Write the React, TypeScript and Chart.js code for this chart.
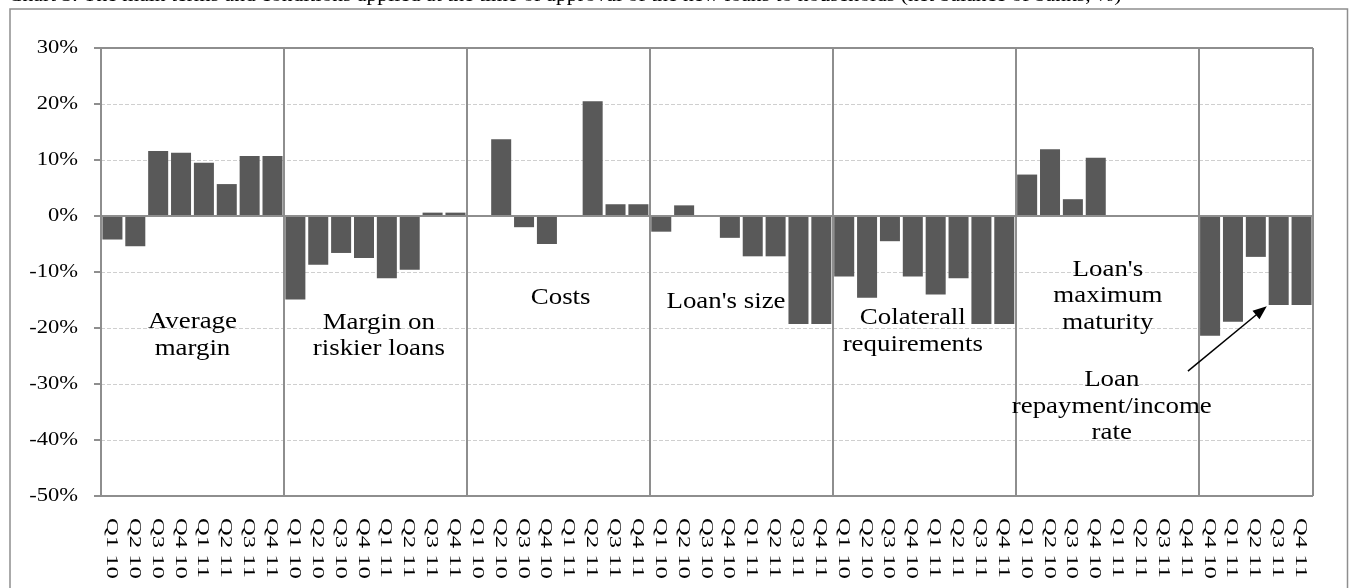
import React, { useEffect, useRef } from 'react';
import { Chart, registerables } from 'chart.js';

Chart.register(...registerables);

// Quarter labels shared by the first six indicator blocks
const quarters = ['Q1 10', 'Q2 10', 'Q3 10', 'Q4 10', 'Q1 11', 'Q2 11', 'Q3 11', 'Q4 11'];
// The repayment/income block only starts in Q4 2010
const repaymentQuarters = ['Q4 10', 'Q1 11', 'Q2 11', 'Q3 11', 'Q4 11'];

// Net balances (%) per indicator
const averageMargin = [-4.2, -5.4, 11.6, 11.3, 9.5, 5.7, 10.7, 10.7];
const riskierMargin = [-14.9, -8.7, -6.6, -7.5, -11.1, -9.6, 0.6, 0.6];
const costs = [0, 13.7, -2.0, -5.0, 0, 20.5, 2.1, 2.1];
const loanSize = [-2.8, 1.9, 0, -3.9, -7.2, -7.2, -19.3, -19.3];
const collateral = [-10.8, -14.6, -4.5, -10.8, -14.0, -11.1, -19.3, -19.3];
const maxMaturity = [7.4, 11.9, 3.0, 10.4, 0, 0, 0, 0];
const repaymentIncome = [-21.4, -18.9, -7.3, -15.9, -15.9];

const blocks = [averageMargin, riskierMargin, costs, loanSize, collateral, maxMaturity, repaymentIncome];
const blockLabels = [quarters, quarters, quarters, quarters, quarters, quarters, repaymentQuarters];

const categories: string[] = blockLabels.flat();
const values: number[] = blocks.flat();

const yTicks = [30, 20, 10, 0, -10, -20, -30, -40, -50];

const title =
  'Chart 3. The main terms and conditions applied at the time of approval of the new loans to households (net balance of banks, %)';

// Block captions: centre position as category index, first baseline as axis value
const captions = [
  { lines: ['Average', 'margin'], at: 3.5, value: -20 },
  { lines: ['Margin on', 'riskier loans'], at: 11.65, value: -20.1 },
  { lines: ['Costs'], at: 19.6, value: -15.7 },
  { lines: ["Loan's size"], at: 26.83, value: -16.5 },
  { lines: ['Colaterall', 'requirements'], at: 35.0, value: -19.3 },
  { lines: ["Loan's", 'maximum', 'maturity'], at: 43.53, value: -10.7 },
  { lines: ['Loan', 'repayment/income', 'rate'], at: 43.7, value: -30.4 },
];
// Pointer from the last caption to its bars
const pointerFrom = { at: 47.03, value: -27.7 };
const pointerTo = { at: 50.48, value: -16.1 };

const SERIF = '"Liberation Serif", "Times New Roman", serif';
const FRAME = '#8e8e8e';
const GRID = '#cfcfcf';

function stretchedText(
  ctx: CanvasRenderingContext2D,
  text: string,
  x: number,
  y: number,
  font: string,
  sx: number,
  align: CanvasTextAlign,
  baseline: CanvasTextBaseline
) {
  ctx.save();
  ctx.translate(x, y);
  ctx.scale(sx, 1);
  ctx.font = font;
  ctx.textAlign = align;
  ctx.textBaseline = baseline;
  ctx.fillStyle = '#000';
  ctx.fillText(text, 0, 0);
  ctx.restore();
}

const gridPlugin = {
  id: 'dashedGrid',
  beforeDatasetsDraw(chart: any) {
    const { ctx, chartArea, scales } = chart;
    const y = scales.y;
    ctx.save();
    ctx.strokeStyle = GRID;
    ctx.lineWidth = 1;
    ctx.setLineDash([4, 2]);
    yTicks.forEach((v) => {
      if (v === 30 || v === 0 || v === -50) return;
      const py = Math.round(y.getPixelForValue(v)) + 0.5;
      ctx.beginPath();
      ctx.moveTo(chartArea.left, py);
      ctx.lineTo(chartArea.right, py);
      ctx.stroke();
    });
    ctx.restore();
  },
};

const decorPlugin = {
  id: 'decor',
  afterDatasetsDraw(chart: any) {
    const { ctx, chartArea, scales } = chart;
    const x = scales.x;
    const y = scales.y;
    const { left, right, bottom } = chartArea;
    const catW = (right - left) / categories.length;

    ctx.save();
    ctx.strokeStyle = FRAME;
    ctx.lineWidth = 2;
    ctx.setLineDash([]);

    // frame, zero line and value-axis tick marks
    const yTop = Math.round(y.getPixelForValue(30));
    const yBot = Math.round(y.getPixelForValue(-50));
    const yZero = Math.round(y.getPixelForValue(0));
    ctx.beginPath();
    ctx.moveTo(left - 7, yTop);
    ctx.lineTo(right, yTop);
    ctx.moveTo(left - 7, yBot);
    ctx.lineTo(right, yBot);
    ctx.moveTo(left - 7, yZero);
    ctx.lineTo(right, yZero);
    ctx.moveTo(left, yTop);
    ctx.lineTo(left, yBot);
    ctx.moveTo(right, yTop);
    ctx.lineTo(right, yBot);
    yTicks.forEach((v) => {
      const py = Math.round(y.getPixelForValue(v));
      ctx.moveTo(left - 7, py);
      ctx.lineTo(left, py);
    });
    // block separators
    let idx = 0;
    blocks.forEach((b, i) => {
      idx += b.length;
      if (i < blocks.length - 1) {
        const px = Math.round(x.getPixelForValue(idx) - catW / 2);
        ctx.moveTo(px, yTop);
        ctx.lineTo(px, yBot);
      }
    });
    ctx.stroke();
    ctx.restore();

    // value-axis labels
    yTicks.forEach((v) => {
      stretchedText(ctx, `${v}%`, 78, y.getPixelForValue(v), `18px ${SERIF}`, 1.25, 'right', 'middle');
    });

    // category labels, rotated to read downwards
    categories.forEach((lab, i) => {
      ctx.save();
      ctx.translate(x.getPixelForValue(i) - 1, bottom + 22);
      ctx.rotate(Math.PI / 2);
      ctx.scale(1.45, 1);
      ctx.font = `17px ${SERIF}`;
      ctx.textAlign = 'left';
      ctx.textBaseline = 'middle';
      ctx.fillStyle = '#000';
      ctx.fillText(lab, 0, 0);
      ctx.restore();
    });

    // block captions
    const lineH = 26.5;
    captions.forEach((c) => {
      const cx = x.getPixelForValue(c.at);
      const by = y.getPixelForValue(c.value);
      c.lines.forEach((ln, k) => {
        stretchedText(ctx, ln, cx, by + k * lineH, `24px ${SERIF}`, 1.12, 'center', 'alphabetic');
      });
    });

    // pointer arrow
    const x0 = x.getPixelForValue(pointerFrom.at);
    const y0 = y.getPixelForValue(pointerFrom.value);
    const x1 = x.getPixelForValue(pointerTo.at);
    const y1 = y.getPixelForValue(pointerTo.value);
    const ang = Math.atan2(y1 - y0, x1 - x0);
    const headL = 14;
    const headW = 5.5;
    ctx.save();
    ctx.strokeStyle = '#000';
    ctx.fillStyle = '#000';
    ctx.lineWidth = 1.5;
    ctx.beginPath();
    ctx.moveTo(x0, y0);
    ctx.lineTo(x1 - Math.cos(ang) * headL * 0.8, y1 - Math.sin(ang) * headL * 0.8);
    ctx.stroke();
    ctx.beginPath();
    ctx.moveTo(x1, y1);
    ctx.lineTo(
      x1 - Math.cos(ang) * headL - Math.sin(ang) * headW,
      y1 - Math.sin(ang) * headL + Math.cos(ang) * headW
    );
    ctx.lineTo(
      x1 - Math.cos(ang) * headL + Math.sin(ang) * headW,
      y1 - Math.sin(ang) * headL - Math.cos(ang) * headW
    );
    ctx.closePath();
    ctx.fill();
    ctx.restore();

    // outer chart border
    ctx.save();
    ctx.strokeStyle = FRAME;
    ctx.lineWidth = 1.5;
    ctx.strokeRect(10, 9, 1337.5, 700);
    ctx.restore();

    // title sits above the chart box, mostly beyond the top edge
    stretchedText(ctx, title, 8, 0.5, `19px ${SERIF}`, 1.14, 'left', 'alphabetic');
  },
};

export default function App() {
  const ref = useRef<HTMLCanvasElement>(null);

  useEffect(() => {
    if (!ref.current) return;
    const chart = new Chart(ref.current, {
      type: 'bar',
      data: {
        labels: categories,
        datasets: [
          {
            data: values,
            backgroundColor: '#595959',
            borderWidth: 0,
            barPercentage: 0.875,
            categoryPercentage: 1,
          },
        ],
      },
      options: {
        animation: false,
        responsive: false,
        maintainAspectRatio: false,
        layout: { padding: { left: 101, top: 48, right: 38, bottom: 92 } },
        plugins: {
          legend: { display: false },
          tooltip: { enabled: false },
          title: { display: false },
        },
        scales: {
          x: { display: false },
          y: { display: false, min: -50, max: 30 },
        },
      },
      plugins: [gridPlugin, decorPlugin],
    });
    return () => chart.destroy();
  }, []);

  return (
    <div style={{ position: 'absolute', left: 0, top: 0, width: 1351, height: 588, background: '#fff' }}>
      <canvas ref={ref} width={1351} height={588} style={{ display: 'block' }} />
    </div>
  );
}
